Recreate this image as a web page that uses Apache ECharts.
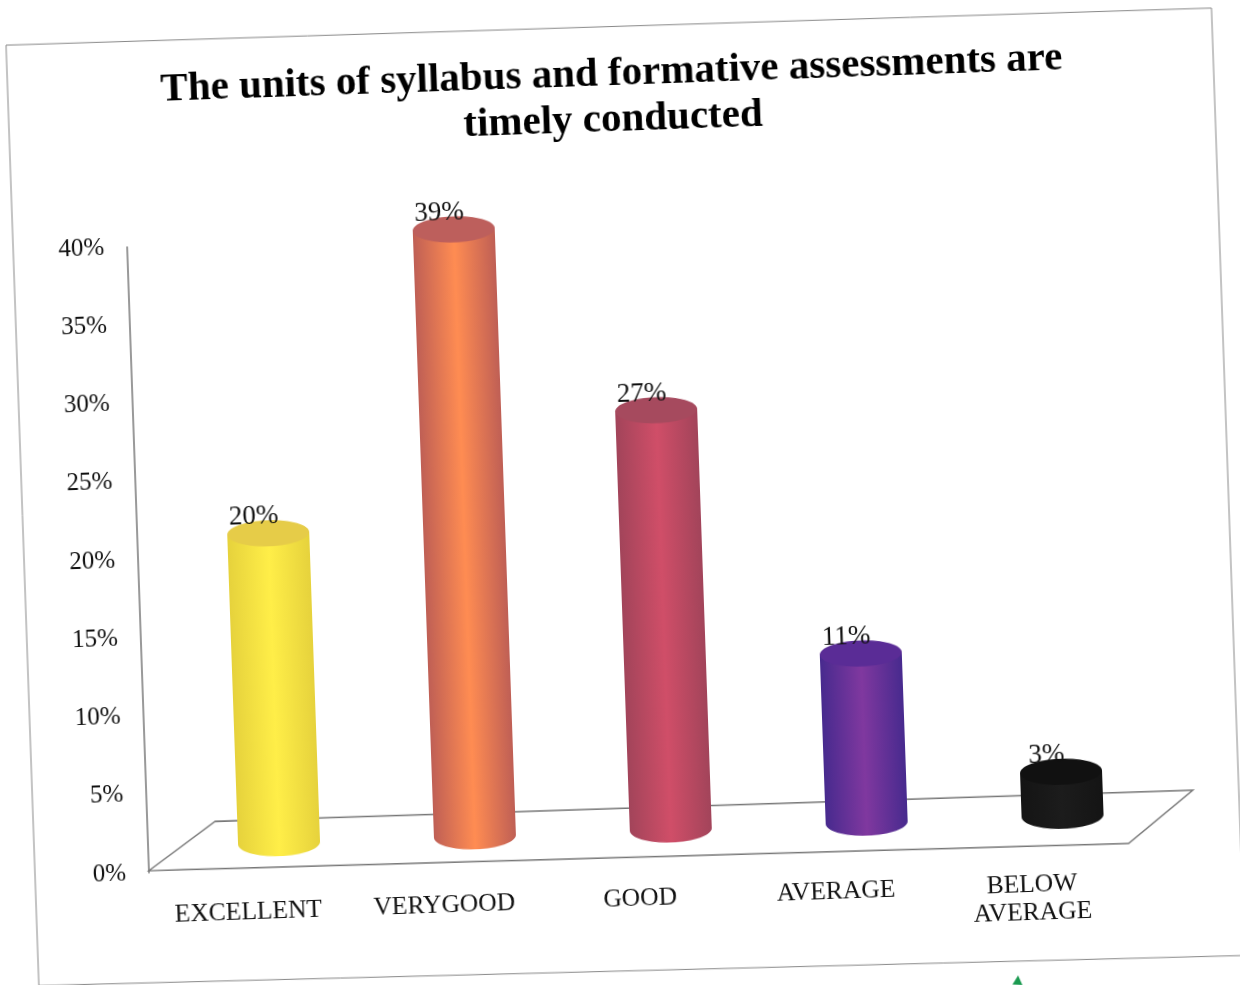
<!DOCTYPE html>
<html>
<head>
<meta charset="utf-8">
<title>Timely conducted</title>
<script src="https://cdn.jsdelivr.net/npm/echarts@6/dist/echarts.min.js"></script>
<style>
  html, body { margin: 0; padding: 0; width: 100%; height: 100%; background: #fff; overflow: hidden; }
  /* the reference is a slightly crooked scan */
  #chart { position: absolute; left: 0; top: 0; width: 1260px; height: 1010px; transform-origin: 620px 492px; transform: rotate(-2deg); }
</style>
</head>
<body>
<div id="chart"></div>
<script>
const categories = ["EXCELLENT", "VERYGOOD", "GOOD", "AVERAGE", "BELOW\nAVERAGE"];
const percents = [20, 39, 27, 11, 3];
const tickLabels = ["0%", "5%", "10%", "15%", "20%", "25%", "30%", "35%", "40%"];
const edgeColors = ["#e6d23c", "#bf5f55", "#a2445a", "#472a8e", "#141414"];
const midColors = ["#ffee48", "#ff8c52", "#d04e68", "#80389f", "#1c1c1c"];
const capColors = ["#e6cc48", "#bd5f5c", "#a64a5e", "#5a2c96", "#111111"];

const serif = '"Liberation Serif", serif';
const chart = echarts.init(document.getElementById("chart"));

function renderFloor(params, api) {
  const band = api.size([1, 0])[0];
  const o = api.coord([0, 0]);
  const x0 = o[0] - band / 2;
  const x1 = x0 + band * categories.length;
  const y = o[1] - 2;
  return {
    type: "polygon",
    shape: { points: [[x0, y], [x0 + 68, y - 47], [x1 + 66, y - 44], [x1, y + 7]] },
    style: { fill: "#fff", stroke: "#777", lineWidth: 1.5 },
  };
}

function renderCylinder(params, api) {
  const i = api.value(0);
  const base = api.coord([i, 0]);
  const top = api.coord([i, api.value(1)]);
  const cx = base[0] + 33;
  const by = base[1] - 25;
  const ty = top[1] - 22;
  const rx = 41, ry = 13;
  const body = new echarts.graphic.LinearGradient(0, 0, 1, 0, [
    { offset: 0, color: edgeColors[i] },
    { offset: 0.5, color: midColors[i] },
    { offset: 1, color: edgeColors[i] },
  ]);
  return {
    type: "group",
    children: [
      { type: "ellipse", shape: { cx: cx, cy: by, rx: rx, ry: ry }, style: { fill: body } },
      { type: "rect", shape: { x: cx - rx, y: ty, width: rx * 2, height: by - ty }, style: { fill: body } },
      { type: "ellipse", shape: { cx: cx, cy: ty, rx: rx, ry: ry }, style: { fill: capColors[i] } },
      {
        type: "text",
        style: {
          x: cx - 14, y: ty - 17, text: api.value(1) + "%",
          font: "27px " + serif, fill: "#111", align: "center", verticalAlign: "middle",
        },
      },
    ],
  };
}

chart.setOption({
  animation: false,
  backgroundColor: "#fff",
  title: {
    text: "The units of syllabus and formative assessments are\ntimely conducted",
    left: 621,
    top: 46,
    textAlign: "center",
    textStyle: { fontFamily: serif, fontWeight: "bold", fontSize: 41, lineHeight: 46, color: "#000" },
  },
  grid: { left: 136, top: 230, width: 980, height: 626 },
  xAxis: {
    type: "category",
    data: categories,
    axisLine: { show: false },
    axisTick: { show: false },
    axisLabel: { margin: 29, fontFamily: serif, fontSize: 25.5, lineHeight: 28, color: "#111", interval: 0 },
  },
  yAxis: {
    type: "value",
    min: 0,
    max: 40,
    interval: 5,
    splitLine: { show: false },
    axisTick: { show: false },
    axisLine: { show: true, lineStyle: { color: "#777", width: 1.5 } },
    axisLabel: {
      margin: 23, fontFamily: serif, fontSize: 25, color: "#111",
      formatter: (val) => tickLabels[val / 5],
    },
  },
  graphic: [
    {
      type: "polygon",
      silent: true,
      z: -1,
      shape: { points: [[22, 24], [1228, 29], [1228, 977], [22, 965]] },
      style: { fill: "none", stroke: "#888", lineWidth: 1 },
    },
    {
      // pen mark at the bottom of the page
      type: "polygon",
      silent: true,
      shape: { points: [[1001, 989], [995, 998], [1005, 999]] },
      style: { fill: "#1a9a50" },
    },
  ],
  series: [
    { type: "custom", z: 1, renderItem: renderFloor, data: [[0, 0]], encode: { x: 0, y: 1 } },
    {
      type: "custom",
      z: 2,
      renderItem: renderCylinder,
      data: percents.map((p, i) => [i, p]),
      encode: { x: 0, y: 1 },
    },
  ],
});
</script>
</body>
</html>
